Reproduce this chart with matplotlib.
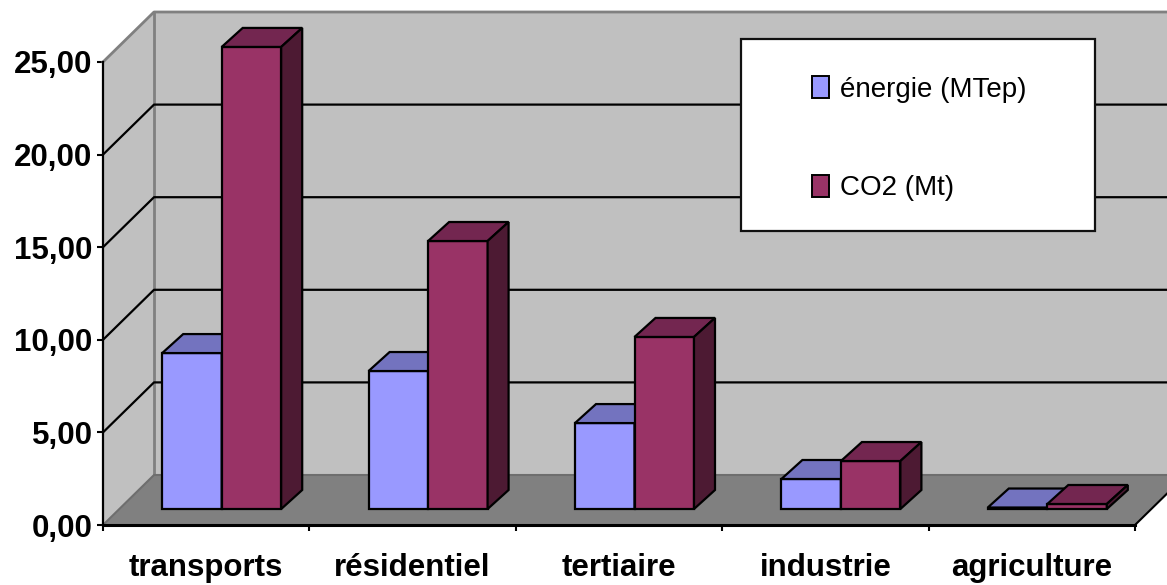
import matplotlib
matplotlib.use("Agg")
import matplotlib.pyplot as plt
from matplotlib.patches import Patch, Rectangle

W, H = 1167, 585
categories = ["transports", "résidentiel", "tertiaire", "industrie", "agriculture"]
energie = [8.42, 7.45, 4.64, 1.62, 0.08]
co2 = [24.95, 14.47, 9.29, 2.59, 0.27]
yticks = [0, 5, 10, 15, 20, 25]
ytick_labels = ["0,00", "5,00", "10,00", "15,00", "20,00", "25,00"]
legend_labels = ["énergie (MTep)", "CO2 (Mt)"]

WALL = "#C0C0C0"
FLOOR = "#808080"

plt.rcParams["font.family"] = ["Liberation Sans", "DejaVu Sans"]

fig = plt.figure(figsize=(W / 100, H / 100), dpi=100, facecolor="white")
ax = fig.add_axes([103 / W, (H - 525) / H, (1135 - 103) / W, (525 - 62) / H])
ax.set_xlim(-0.5, 4.5)
ax.set_ylim(0, 25)
ax.patch.set_visible(False)

# depth of the fake 3d box and of the bars, in data units
px_x = 5 / (1135 - 103)
px_y = 25 / (525 - 62)
box_dx, box_dy = 51 * px_x, 50 * px_y
bar_dx, bar_dy = 15.5 * px_x, 16 * px_y
side_dx, side_dy = 21 * px_x, 19 * px_y
bar_w = 59.5 * px_x

x0, x1 = -0.5, 4.5

# walls and floor
ax.fill([x0 + box_dx, x1 + box_dx, x1 + box_dx, x0 + box_dx],
        [box_dy, box_dy, 25 + box_dy, 25 + box_dy], color=WALL, lw=0, clip_on=False, zorder=1)
ax.fill([x0, x0 + box_dx, x0 + box_dx, x0],
        [0, box_dy, 25 + box_dy, 25], color=WALL, lw=0, clip_on=False, zorder=1)
ax.fill([x0, x1, x1 + box_dx, x0 + box_dx],
        [0, 0, box_dy, box_dy], color=FLOOR, lw=0, clip_on=False, zorder=1)

# grey box edges
ax.plot([x0, x0 + box_dx, x1 + box_dx], [25, 25 + box_dy, 25 + box_dy], color=FLOOR, lw=2, clip_on=False, zorder=2)
ax.plot([x0 + box_dx, x0 + box_dx], [box_dy, 25 + box_dy], color=FLOOR, lw=2, clip_on=False, zorder=2)
ax.plot([x0, x0 + box_dx, x1 + box_dx], [0, box_dy, box_dy], color="#6E6E6E", lw=1.5, clip_on=False, zorder=2)
ax.plot([x1, x1 + box_dx], [0, box_dy], color="black", lw=1.5, clip_on=False, zorder=2)

# gridlines on both walls
for t in yticks[1:-1]:
    ax.plot([x0, x0 + box_dx, x1 + box_dx], [t, t + box_dy, t + box_dy],
            color="black", lw=1.6, clip_on=False, zorder=2)


def draw_bars(values, offset, face, top, side, z):
    xs = [i + bar_dx + offset for i in range(len(values))]
    ax.bar(xs, values, width=bar_w, bottom=bar_dy, align="edge", color=face,
           edgecolor="black", linewidth=1.6, zorder=z, clip_on=False)
    for xl, v in zip(xs, values):
        xr = xl + bar_w
        yt = v + bar_dy
        ax.fill([xl, xr, xr + side_dx, xl + side_dx], [yt, yt, yt + side_dy, yt + side_dy],
                facecolor=top, edgecolor="black", lw=1.6, clip_on=False, zorder=z)
        ax.fill([xr, xr + side_dx, xr + side_dx, xr], [bar_dy, bar_dy + side_dy, yt + side_dy, yt],
                facecolor=side, edgecolor="black", lw=1.6, clip_on=False, zorder=z)


draw_bars(energie, -bar_w, "#9999FF", "#7373BF", "#4D4D80", 3)
draw_bars(co2, 0, "#993366", "#732650", "#4D1A33", 4)

# axes
for s in ["top", "right"]:
    ax.spines[s].set_visible(False)
ax.spines["left"].set_linewidth(1.6)
ax.spines["bottom"].set_linewidth(2.2)
ax.spines["left"].set_zorder(6)
ax.spines["bottom"].set_zorder(6)

ax.set_yticks(yticks)
ax.set_yticklabels(ytick_labels, fontsize=22.5, fontweight="bold")
ax.tick_params(axis="y", length=4, width=1.5, pad=3.5)
ax.set_xticks([i - 0.5 for i in range(6)])
ax.set_xticklabels([])
ax.tick_params(axis="x", which="major", length=4, width=1.5)
ax.set_xticks(range(5), minor=True)
ax.set_xticklabels(categories, minor=True, fontsize=22.5, fontweight="bold")
ax.tick_params(axis="x", which="minor", length=0, pad=20)

# legend box
fig.add_artist(Rectangle((741 / W, (H - 231) / H), 354 / W, 192 / H, transform=fig.transFigure,
                         facecolor="white", edgecolor="#111111", linewidth=1.6, zorder=7))
handles = [Patch(facecolor="#9999FF", edgecolor="black", linewidth=1.4),
           Patch(facecolor="#993366", edgecolor="black", linewidth=1.4)]
leg = fig.legend(handles, legend_labels, loc="upper left", bbox_to_anchor=(812 / W, (H - 76) / H),
                 frameon=False, fontsize=20, handlelength=0.61, handleheight=0.83,
                 handletextpad=0.4, labelspacing=2.6, borderpad=0, borderaxespad=0)
leg.set_zorder(8)

fig.savefig("out.png", dpi=100)
